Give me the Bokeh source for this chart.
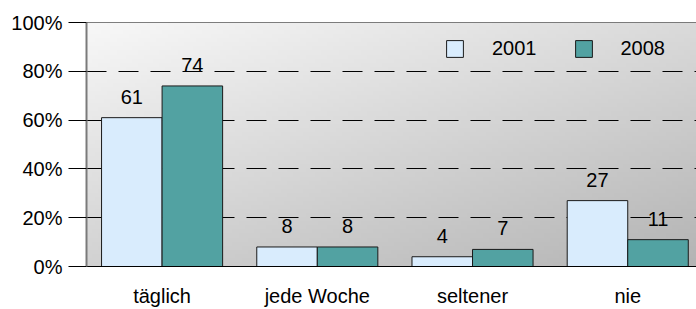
import numpy as np
from bokeh.plotting import figure
from bokeh.models import (FixedTicker, Span, Legend, LegendItem, ColumnDataSource)
from bokeh.core.properties import value
from bokeh.embed import file_html
from bokeh.resources import INLINE

# ---- data ----
categories = ["täglich", "jede Woche", "seltener", "nie"]
series_names = ["2001", "2008"]
values_2001 = [61, 8, 4, 27]
values_2008 = [74, 8, 7, 11]
y_ticks = [0, 20, 40, 60, 80, 100]
y_tick_labels = ["0%", "20%", "40%", "60%", "80%", "100%"]

color_2001 = "#d9ecfd"
color_2008 = "#52a2a2"
FONT = "Liberation Sans"
FS = "20px"

cat_pos = [i + 0.5 for i in range(len(categories))]
x_start, x_end = 0.013, 3.943

p = figure(width=696, height=309, output_backend="svg", toolbar_location=None,
           x_range=(x_start, x_end), y_range=(0, 100))
p.min_border_left = 86
p.min_border_right = 0
p.min_border_top = 22
p.min_border_bottom = 42
p.outline_line_color = None
p.border_fill_color = "white"

# gradient background (decoration)
ny, nx = 60, 200
u = np.linspace(0, 1, nx)[None, :]
w = np.linspace(0, 1, ny)[:, None]  # 0 = bottom, 1 = top
g = 248 - 30 * u - 38 * (1 - w)
g = np.clip(g, 0, 255).astype(np.uint32)
img = (255 << 24) | (g << 16) | (g << 8) | g
bg = p.image_rgba(image=[img.astype(np.uint32)], x=x_start, y=0,
                  dw=x_end - x_start, dh=100)
bg.level = "image"

# grid
p.xgrid.visible = False
p.ygrid.ticker = FixedTicker(ticks=y_ticks[1:-1])
p.ygrid.grid_line_color = "black"
p.ygrid.grid_line_dash = "20 12"
p.ygrid.grid_line_width = 1

p.add_layout(Span(location=y_ticks[-1], dimension="width", line_color="black", line_width=1))

src1 = ColumnDataSource(dict(x=[c - 0.195 for c in cat_pos], top=values_2001,
                             lab=[str(v) for v in values_2001]))
src2 = ColumnDataSource(dict(x=[c + 0.195 for c in cat_pos], top=values_2008,
                             lab=[str(v) for v in values_2008]))

r1 = p.vbar(x="x", top="top", width=0.39, bottom=0, source=src1,
            fill_color=color_2001, line_color="#1a1a1a", line_width=1)
r2 = p.vbar(x="x", top="top", width=0.39, bottom=0, source=src2,
            fill_color=color_2008, line_color="#1a1a1a", line_width=1)

for s in (src1, src2):
    p.text(x="x", y="top", text="lab", source=s, text_align="center",
           text_baseline="alphabetic", y_offset=-21,
           text_font=value(FONT), text_font_size=FS, text_color="black")

# axes
ya = p.yaxis[0]
ya.ticker = FixedTicker(ticks=y_ticks)
ya.major_label_overrides = {t: l for t, l in zip(y_ticks, y_tick_labels)}
ya.major_tick_out = 18
ya.major_tick_in = 0
ya.minor_tick_out = 0
ya.minor_tick_in = 0
ya.major_tick_line_color = "black"
ya.axis_line_color = "#7a7a7a"
ya.axis_line_width = 2
ya.major_label_standoff = 6
ya.major_label_text_font = FONT
ya.major_label_text_font_size = FS
ya.major_label_text_color = "black"

xa = p.xaxis[0]
xa.ticker = FixedTicker(ticks=cat_pos)
xa.major_label_overrides = {t: l for t, l in zip(cat_pos, categories)}
xa.major_tick_out = 0
xa.major_tick_in = 0
xa.minor_tick_out = 0
xa.minor_tick_in = 0
xa.axis_line_color = "black"
xa.major_label_standoff = 18
xa.major_label_text_font = FONT
xa.major_label_text_font_size = FS
xa.major_label_text_color = "black"

legend = Legend(items=[LegendItem(label=series_names[0], renderers=[r1]),
                       LegendItem(label=series_names[1], renderers=[r2])],
                orientation="horizontal", location=(358, 206),
                background_fill_alpha=0, border_line_color=None,
                glyph_width=21, glyph_height=21, label_standoff=27, spacing=36,
                padding=0, margin=0, label_text_font=FONT, label_text_font_size=FS,
                label_text_color="black")
p.add_layout(legend, "center")

open("out.html", "w").write(file_html(p, INLINE))
